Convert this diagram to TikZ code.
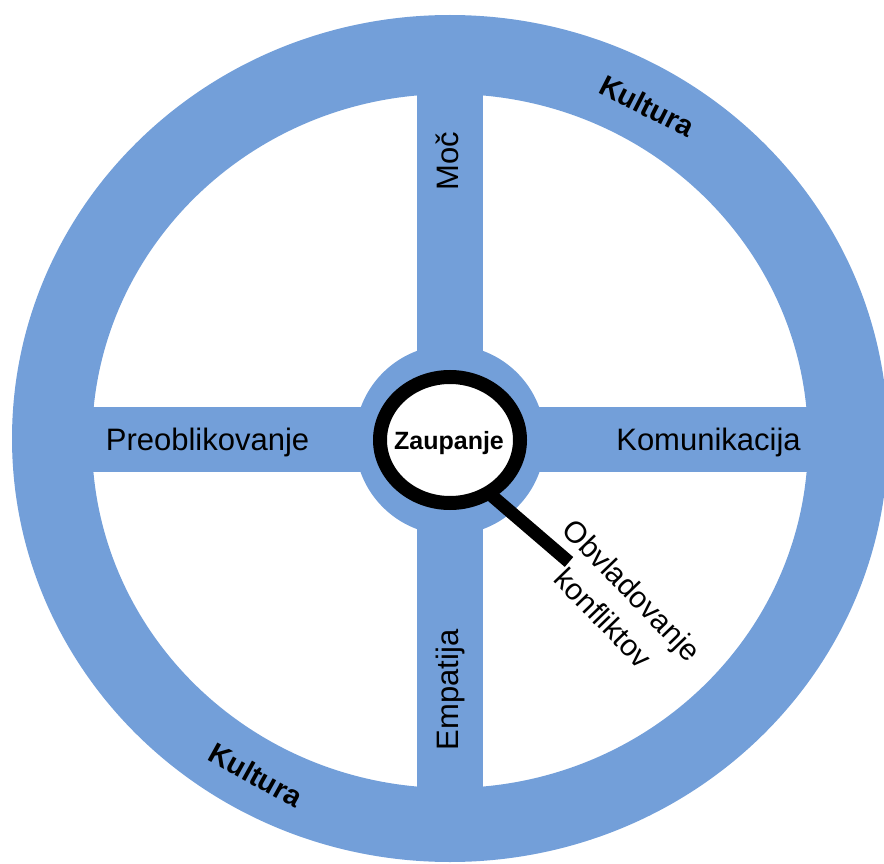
\documentclass[tikz,border=0pt]{standalone}
\usepackage{fontspec}
\setmainfont{Liberation Sans}
\definecolor{wheelblue}{RGB}{115,159,217}
\tikzset{
  spoke/.style={fill=wheelblue, draw=none},
  lbl/.style={font=\fontsize{31}{36}\selectfont, text=black, inner sep=0pt},
  rimlbl/.style={font=\fontsize{29}{32}\selectfont\bfseries, text=black, inner sep=0pt},
}
\begin{document}
\begin{tikzpicture}[x=1pt, y=-1pt]
  \useasboundingbox (0,0) rectangle (884,864);

  % rim of the wheel
  \fill[wheelblue, even odd rule]
    (450,438.5) ellipse [x radius=438, y radius=423.5]
    (450,441) ellipse [x radius=358, y radius=347];

  % spokes and hub
  \fill[spoke] (417,90) rectangle (483,792);
  \fill[spoke] (88,407) rectangle (812,472);
  \fill[spoke] (450,440) circle [radius=95];

  % magnifying glass: handle, then the lens on top
  \coordinate (handleStart) at (470,477);
  \coordinate (handleEnd) at (569,562);
  \draw[line width=13pt, line cap=butt] (handleStart) -- (handleEnd);
  \draw[line width=14pt, fill=white] (450,440) ellipse [x radius=70, y radius=63];

  % labels
  \node[font=\fontsize{25}{30}\selectfont\bfseries, inner sep=0pt, anchor=base] (trust) at (449,449) {Zaupanje};
  \node[lbl, anchor=base] (reshape) at (207.5,450) {Preoblikovanje};
  \node[lbl, anchor=base] (comm) at (708.5,450) {Komunikacija};
  \node[lbl, anchor=base, rotate=90] (power) at (458,161) {Moč};
  \node[lbl, anchor=base, rotate=90] (empathy) at (458,690) {Empatija};
  \node[font=\fontsize{30}{40}\selectfont, inner sep=0pt, align=center, rotate=-46] (conflict) at (618,604) {Obvladovanje\\konfliktov};
  \node[rimlbl, rotate=-27] (cultTop) at (647,106) {Kultura};
  \node[rimlbl, rotate=-29] (cultBottom) at (256,775) {Kultura};
\end{tikzpicture}
\end{document}
